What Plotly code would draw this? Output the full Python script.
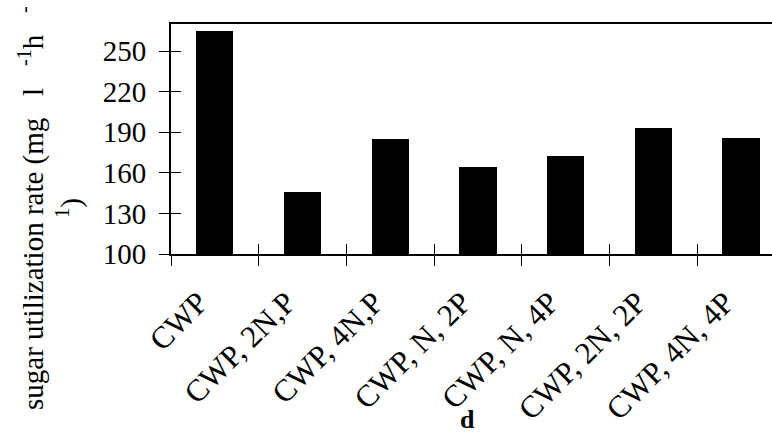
import plotly.graph_objects as go

# Sugar utilization rate per medium composition
categories = ["CWP", "CWP, 2N,P", "CWP, 4N,P", "CWP, N, 2P",
              "CWP, N, 4P", "CWP, 2N, 2P", "CWP, 4N, 4P"]
rates = [265, 146, 185, 164, 172.5, 193.5, 185.5]
y_ticks = [100, 130, 160, 190, 220, 250]

FONT = "Liberation Serif, Times New Roman, serif"
W, H = 772, 433
L, T, B = 171, 24, 179

fig = go.Figure()
fig.add_trace(go.Bar(
    x=categories, y=rates, width=0.425,
    marker=dict(color="black", line=dict(width=0)),
    showlegend=False,
))

n = len(categories)
x_range = [-0.5, -0.5 + (W - L) / 87.7]
y_range = [100, 270]

axis_common = dict(showgrid=False, zeroline=False, tickcolor="black",
                   tickwidth=1, ticklen=10)

fig.update_layout(
    width=W, height=H,
    margin=dict(l=L, r=0, t=T, b=B, pad=0),
    paper_bgcolor="white", plot_bgcolor="white",
    font=dict(family=FONT, size=28, color="black"),
    bargap=0,
    xaxis=dict(
        type="category", range=x_range, tickson="boundaries",
        ticks="outside", tickangle=-45, showline=True, linecolor="black",
        linewidth=2, mirror=True, tickfont=dict(size=31),
        ticklabelstandoff=16, ticklabelshift=-16,
        **axis_common,
    ),
    yaxis=dict(
        range=y_range, tickmode="array", tickvals=y_ticks,
        ticks="outside", showline=True, linecolor="black", linewidth=2,
        mirror=False, ticklabelstandoff=7, tickfont=dict(size=29),
        **axis_common,
    ),
    # second pair of axes supplies the inner half of the crossing ticks
    xaxis2=dict(
        overlaying="x", anchor="y2", range=x_range, tickmode="array",
        tickvals=[i + 0.5 for i in range(n - 1)], ticks="inside",
        showticklabels=False, showline=False, side="bottom",
        **axis_common,
    ),
    yaxis2=dict(
        overlaying="y", anchor="x2", range=y_range, tickmode="array",
        tickvals=y_ticks, ticks="inside", showticklabels=False,
        showline=False, side="left", **axis_common,
    ),
)

# invisible trace so the overlay axes are laid out
fig.add_trace(go.Scatter(x=[0], y=[100], xaxis="x2", yaxis="y2",
                         mode="markers", marker=dict(opacity=0),
                         showlegend=False, hoverinfo="skip"))

sp = "\u00a0"
title = ("sugar utilization rate (mg" + sp * 3 + "l" + sp * 3 +
         "<sup>-1</sup>h" + sp * 3 + "<sup>-</sup><br><sup>1</sup>)")
fig.add_annotation(
    text=title, textangle=-90, showarrow=False,
    xref="paper", yref="paper",
    x=(50 - L) / (W - L), y=(H - B - 208) / (H - B - T),
    xanchor="center", yanchor="middle",
    font=dict(family=FONT, size=29, color="black"),
)

fig.add_annotation(
    text="<b>d</b>", showarrow=False, xref="paper", yref="paper",
    x=(467 - L) / (W - L), y=(H - B - 436) / (H - B - T),
    xanchor="center", yanchor="bottom",
    font=dict(family=FONT, size=26, color="black"),
)

fig.write_html("out.html")
